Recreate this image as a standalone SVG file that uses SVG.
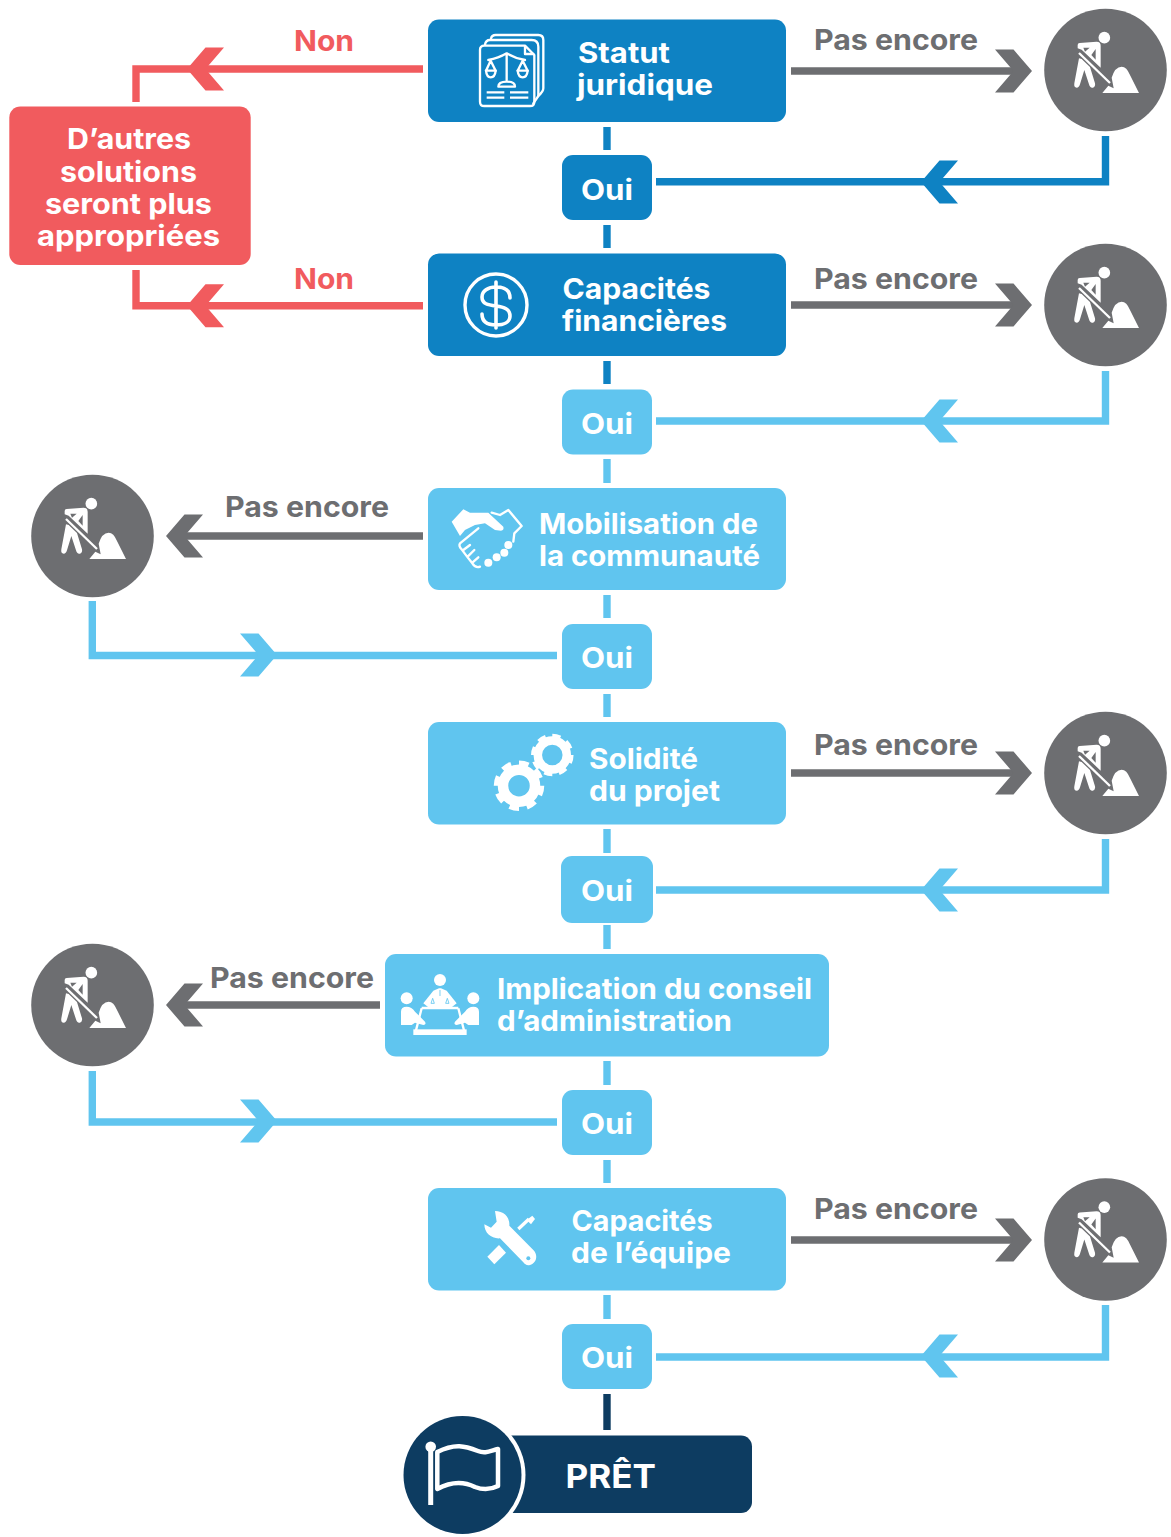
<svg xmlns="http://www.w3.org/2000/svg" width="1171" height="1537" viewBox="0 0 1171 1537">
<style>
text{font-family:"Inter","Noto Sans","Liberation Sans",sans-serif;font-weight:700;font-size:28.5px;fill:#fff}
.g{fill:#6d6e71}.r{fill:#f15b5e}
text.g{fill:#6d6e71}text.r{fill:#f15b5e}
.ld{stroke:#0e82c3}.ll{stroke:#60c5ef}.lg{stroke:#6d6e71}.lr{stroke:#f15b5e}.ln{stroke:#0d3c61}
.conn path,.conn line{fill:none;stroke-width:7.4}
.dark{fill:#0e82c3}.light{fill:#60c5ef}
.ic{fill:none;stroke:#fff;stroke-width:7;stroke-linecap:round;stroke-linejoin:round}
.wf{fill:#fff}
</style>
<defs>
<polygon id="hl" points="0,0 18.5,-21.500 37,-21.500 18.500,0 37,21.500 18.5,21.500"/>
<polygon id="hr" points="0,0 -18.5,-21.500 -37,-21.500 -18.500,0 -37,21.500 -18.5,21.500"/>
<g id="worker">
<circle r="61.300" fill="#6d6e71"/>
<g transform="translate(-40.500,-45) scale(.3333)">
<circle cx="118" cy="38" r="17.500" fill="#fff"/>
<path fill="#fff" fill-rule="evenodd" d="M38,60 Q38,54 44,54 L95,50 Q107,50 107,62 L107,128 L50,74 L38,70 Z M55,68 L74,68 L60,80 Z M79,90 L92,72 L92,104 Z"/>
<path fill="#fff" d="M42,100 L28,175 Q26,188 35,188 Q42,188 45,178 L58,135 L72,178 Q75,190 84,188 Q92,185 90,175 L75,126 L50,102 Z"/>
<path d="M42,84 L135,174" stroke="#fff" stroke-width="7" fill="none"/>
<path fill="#fff" d="M112,204 L130,182 L146,190 L140,158 Q150,125 170,125 Q185,125 195,150 L222,204 Z"/>
</g>
</g>
</defs>

<g id="connectors" class="conn">
<g class="ld">
<line x1="607" y1="127" x2="607" y2="150"/>
<line x1="607" y1="225" x2="607" y2="248"/>
<line x1="607" y1="361" x2="607" y2="384"/>
<path d="M656,181.700H1105.500V136"/>
</g>
<use href="#hl" x="921" y="182" fill="#0e82c3"/>
<g class="ll">
<line x1="607" y1="459" x2="607" y2="483"/>
<line x1="607" y1="595" x2="607" y2="618"/>
<line x1="607" y1="694" x2="607" y2="717"/>
<line x1="607" y1="829" x2="607" y2="853"/>
<line x1="607" y1="925" x2="607" y2="949"/>
<line x1="607" y1="1061" x2="607" y2="1085"/>
<line x1="607" y1="1160" x2="607" y2="1183"/>
<line x1="607" y1="1295" x2="607" y2="1319"/>
<path d="M656,421H1105.500V371"/>
<path d="M557,655.500H92.300V601"/>
<path d="M656,890H1105.500V839"/>
<path d="M557,1122H92.300V1071"/>
<path d="M656,1357H1105.500V1305"/>
</g>
<g fill="#60c5ef">
<use href="#hl" x="921" y="421"/>
<use href="#hr" x="277" y="655"/>
<use href="#hl" x="921" y="890"/>
<use href="#hr" x="277" y="1121"/>
<use href="#hl" x="921" y="1356"/>
</g>
<line class="ln" x1="607" y1="1394" x2="607" y2="1430"/>
<g class="lg">
<line x1="791" y1="71" x2="1026" y2="71"/>
<line x1="791" y1="305" x2="1026" y2="305"/>
<line x1="791" y1="773" x2="1026" y2="773"/>
<line x1="791" y1="1240" x2="1026" y2="1240"/>
<line x1="172" y1="536" x2="423" y2="536"/>
<line x1="172" y1="1005" x2="380" y2="1005"/>
</g>
<g fill="#6d6e71">
<use href="#hr" x="1032" y="71"/>
<use href="#hr" x="1032" y="305"/>
<use href="#hr" x="1032" y="773"/>
<use href="#hr" x="1032" y="1240"/>
<use href="#hl" x="166" y="536"/>
<use href="#hl" x="166" y="1005"/>
</g>
<path class="lr" d="M423,69H136V102"/>
<path class="lr" d="M423,305.700H136V270"/>
<g fill="#f15b5e">
<use href="#hl" x="187" y="69"/>
<use href="#hl" x="187" y="305.700"/>
</g>
</g>

<g id="connector-labels">
<text class="r" x="294" y="51" textLength="60" lengthAdjust="spacingAndGlyphs">Non</text>
<text class="r" x="294" y="288.500" textLength="60" lengthAdjust="spacingAndGlyphs">Non</text>
<text class="g" x="814" y="50" textLength="164" lengthAdjust="spacingAndGlyphs">Pas encore</text>
<text class="g" x="814" y="289" textLength="164" lengthAdjust="spacingAndGlyphs">Pas encore</text>
<text class="g" x="225" y="517" textLength="164" lengthAdjust="spacingAndGlyphs">Pas encore</text>
<text class="g" x="814" y="755" textLength="164" lengthAdjust="spacingAndGlyphs">Pas encore</text>
<text class="g" x="210" y="988" textLength="164" lengthAdjust="spacingAndGlyphs">Pas encore</text>
<text class="g" x="814" y="1219" textLength="164" lengthAdjust="spacingAndGlyphs">Pas encore</text>
</g>

<g id="node-autres">
<rect class="r" x="9.300" y="106.500" width="241.400" height="158.500" rx="11"/>
<text x="67" y="149" textLength="124" lengthAdjust="spacingAndGlyphs">D’autres</text>
<text x="60" y="181.500" textLength="137" lengthAdjust="spacingAndGlyphs">solutions</text>
<text x="45" y="213.500" textLength="167" lengthAdjust="spacingAndGlyphs">seront plus</text>
<text x="37" y="245.500" textLength="183" lengthAdjust="spacingAndGlyphs">appropriées</text>
</g>

<g id="node-statut">
<rect class="dark" x="428" y="19.500" width="358" height="102.500" rx="11"/>
<g class="ic" transform="translate(475,30) scale(.3333)">
<path d="M15,60 Q15,47 28,47 L150,47 L178,75 L178,215 Q178,228 165,228 L28,228 Q15,228 15,215 Z"/>
<path d="M150,50 V72 H175"/>
<path d="M30,44 Q32,30 45,30 L170,30 Q190,30 190,50 L190,198 L175,220"/>
<path d="M48,26 Q50,15 62,15 L190,15 Q205,15 205,30 L205,175 Q205,185 190,198"/>
<path d="M95,72 V150 M40,90 Q70,85 95,70 Q120,85 150,90"/>
<path d="M47,92 L33,122 H62 Z M143,92 L128,122 H158 Z"/>
<path d="M33,122 Q35,142 47,142 Q60,142 62,122 M128,122 Q130,142 143,142 Q156,142 158,122"/>
<path d="M70,170 Q70,155 95,155 Q120,155 120,170 Z"/>
<path d="M35,187 H88 M35,203 H88 M105,187 H160 M105,203 H160" stroke-linecap="butt"/>
</g>
<text x="578" y="62.500" textLength="92" lengthAdjust="spacingAndGlyphs">Statut</text>
<text x="577" y="95" textLength="136" lengthAdjust="spacingAndGlyphs">juridique</text>
</g>

<g id="node-oui-1">
<rect class="dark" x="562" y="155" width="90" height="65" rx="11"/>
<text x="581" y="200" textLength="52" lengthAdjust="spacingAndGlyphs">Oui</text>
</g>
<use id="worker-1" href="#worker" x="1105.500" y="70"/>

<g id="node-capacites-fin">
<rect class="dark" x="428" y="253.500" width="358" height="102.500" rx="11"/>
<circle cx="496" cy="305" r="31" fill="none" stroke="#fff" stroke-width="3.400"/>
<path d="M510,298 C510,290 504,287 496,287 C488,287 482,291 482,297 C482,304 488,305 496,306 C504,307 510,309 510,316 C510,322 504,325 496,325 C488,325 482,322 482,314 M496,282 V328" fill="none" stroke="#fff" stroke-width="3.600" stroke-linecap="round"/>
<text x="562.500" y="299" textLength="148" lengthAdjust="spacingAndGlyphs">Capacités</text>
<text x="562" y="331" textLength="165" lengthAdjust="spacingAndGlyphs">financières</text>
</g>

<g id="node-oui-2">
<rect class="light" x="562" y="389.500" width="90" height="65" rx="11"/>
<text x="581" y="433.500" textLength="52" lengthAdjust="spacingAndGlyphs">Oui</text>
</g>
<use id="worker-2" href="#worker" x="1105.500" y="305"/>

<g id="node-mobilisation">
<rect class="light" x="428" y="488" width="358" height="102" rx="11"/>
<g transform="translate(445,500) scale(.3333)">
<path class="wf" d="M20,65 L55,28 L75,38 L130,38 L175,80 Q178,90 168,92 L150,90 L120,70 L90,75 L60,90 L45,108 Z"/>
<g class="ic">
<path d="M140,38 L165,45 L190,30 L230,78 L208,100 L205,125"/>
<path d="M100,85 L45,130 Q40,138 50,148 L68,172 L82,190 Q92,205 105,200 M55,150 L75,135 M68,170 L88,150 M82,188 L100,172"/>
</g>
<circle class="wf" cx="130" cy="188" r="12"/><circle class="wf" cx="155" cy="172" r="12"/><circle class="wf" cx="178" cy="158" r="12"/><circle class="wf" cx="190" cy="135" r="12"/>
</g>
<text x="539" y="533.500" textLength="219" lengthAdjust="spacingAndGlyphs">Mobilisation de</text>
<text x="539" y="565.500" textLength="221" lengthAdjust="spacingAndGlyphs">la communauté</text>
</g>
<use id="worker-3" href="#worker" x="92.500" y="536"/>

<g id="node-oui-3">
<rect class="light" x="562" y="624" width="90" height="65" rx="11"/>
<text x="581" y="667.500" textLength="52" lengthAdjust="spacingAndGlyphs">Oui</text>
</g>

<g id="node-solidite">
<rect class="light" x="428" y="722" width="358" height="102.500" rx="11"/>
<g fill="none" stroke="#fff">
<circle cx="519" cy="785.700" r="16" stroke-width="10.500"/>
<circle cx="519" cy="785.700" r="22.500" stroke-width="5.500" pathLength="80" stroke-dasharray="5.500 4.500"/>
<circle cx="552.300" cy="755" r="14.500" stroke-width="8.500"/>
<circle cx="552.300" cy="755" r="19" stroke-width="4.500" pathLength="80" stroke-dasharray="5.500 4.500"/>
</g>
<text x="589" y="769" textLength="109" lengthAdjust="spacingAndGlyphs">Solidité</text>
<text x="589" y="801" textLength="131" lengthAdjust="spacingAndGlyphs">du projet</text>
</g>
<use id="worker-4" href="#worker" x="1105.500" y="773"/>

<g id="node-oui-4">
<rect class="light" x="561" y="856" width="92" height="67" rx="11"/>
<text x="581" y="900.500" textLength="52" lengthAdjust="spacingAndGlyphs">Oui</text>
</g>

<g id="node-implication">
<rect class="light" x="385" y="954" width="444" height="102.500" rx="11"/>
<g transform="translate(395,970) scale(.3333)">
<g class="wf">
<circle cx="135" cy="30" r="18"/><circle cx="35" cy="85" r="18"/><circle cx="235" cy="85" r="18"/>
<path d="M85,100 L115,62 L132,55 L138,55 L155,62 L185,100 L170,112 L100,112 Z"/>
<rect x="55" y="178" width="160" height="17"/>
<path d="M18,125 Q18,110 35,110 Q50,110 60,125 L90,155 Q95,165 85,165 L60,158 L50,165 L18,165 Z"/>
<path d="M252,125 Q252,110 235,110 Q220,110 210,125 L180,155 Q175,165 185,165 L210,158 L220,165 L252,165 Z"/>
</g>
<path d="M135,60 V78 M113,85 L108,100 H118 Z M157,85 L152,100 H162 Z" fill="none" stroke="#60c5ef" stroke-width="2.500"/>
<path d="M80,115 L62,185 M190,115 L208,185 M80,114 H190" fill="none" stroke="#fff" stroke-width="7"/>
</g>
<text x="497" y="998.500" textLength="315" lengthAdjust="spacingAndGlyphs">Implication du conseil</text>
<text x="497" y="1031" textLength="235" lengthAdjust="spacingAndGlyphs">d’administration</text>
</g>
<use id="worker-5" href="#worker" x="92.500" y="1005"/>

<g id="node-oui-5">
<rect class="light" x="562" y="1090" width="90" height="65" rx="11"/>
<text x="581" y="1133.500" textLength="52" lengthAdjust="spacingAndGlyphs">Oui</text>
</g>

<g id="node-capacites-eq">
<rect class="light" x="428" y="1188" width="358" height="102.500" rx="11"/>
<g transform="translate(475,1205) scale(.3333)">
<path class="wf" d="M60,18 C85,18 105,35 103,62 L175,135 C190,150 185,175 165,180 C155,182 150,178 145,172 L75,100 C50,102 28,85 28,58 L48,68 L65,50 Z"/>
<circle cx="160" cy="160" r="6" fill="#60c5ef"/>
<path class="wf" d="M37,155 L72,120 L93,143 L58,178 Z"/>
<path d="M130,72 L162,42" stroke="#fff" stroke-width="10" fill="none"/>
<path class="wf" d="M155,45 L172,32 L180,42 L168,58 Z"/>
</g>
<text x="571.500" y="1231" textLength="141" lengthAdjust="spacingAndGlyphs">Capacités</text>
<text x="571" y="1263" textLength="160" lengthAdjust="spacingAndGlyphs">de l’équipe</text>
</g>
<use id="worker-6" href="#worker" x="1105.500" y="1239.500"/>

<g id="node-oui-6">
<rect class="light" x="562" y="1324" width="90" height="65" rx="11"/>
<text x="581" y="1368" textLength="52" lengthAdjust="spacingAndGlyphs">Oui</text>
</g>

<g id="node-pret">
<rect x="500" y="1435.500" width="252" height="77.500" rx="11" fill="#0d3c61"/>
<circle cx="462.500" cy="1475" r="63" fill="#fff"/>
<circle cx="462.500" cy="1475" r="59" fill="#0d3c61"/>
<line x1="430.700" y1="1447" x2="430.700" y2="1505" stroke="#fff" stroke-width="5"/>
<circle cx="430.700" cy="1446.700" r="5.300" fill="#fff"/>
<path d="M437.300,1452 C455,1443 465,1446 478,1451 C485,1454 490,1451 498,1449 V1486 C490,1490 483,1490 475,1487 C465,1482 452,1481 437.300,1489 Z" fill="none" stroke="#fff" stroke-width="4.500" stroke-linejoin="round"/>
<text x="565.500" y="1488" style="font-size:33px" textLength="90.500" lengthAdjust="spacingAndGlyphs">PRÊT</text>
</g>
</svg>
